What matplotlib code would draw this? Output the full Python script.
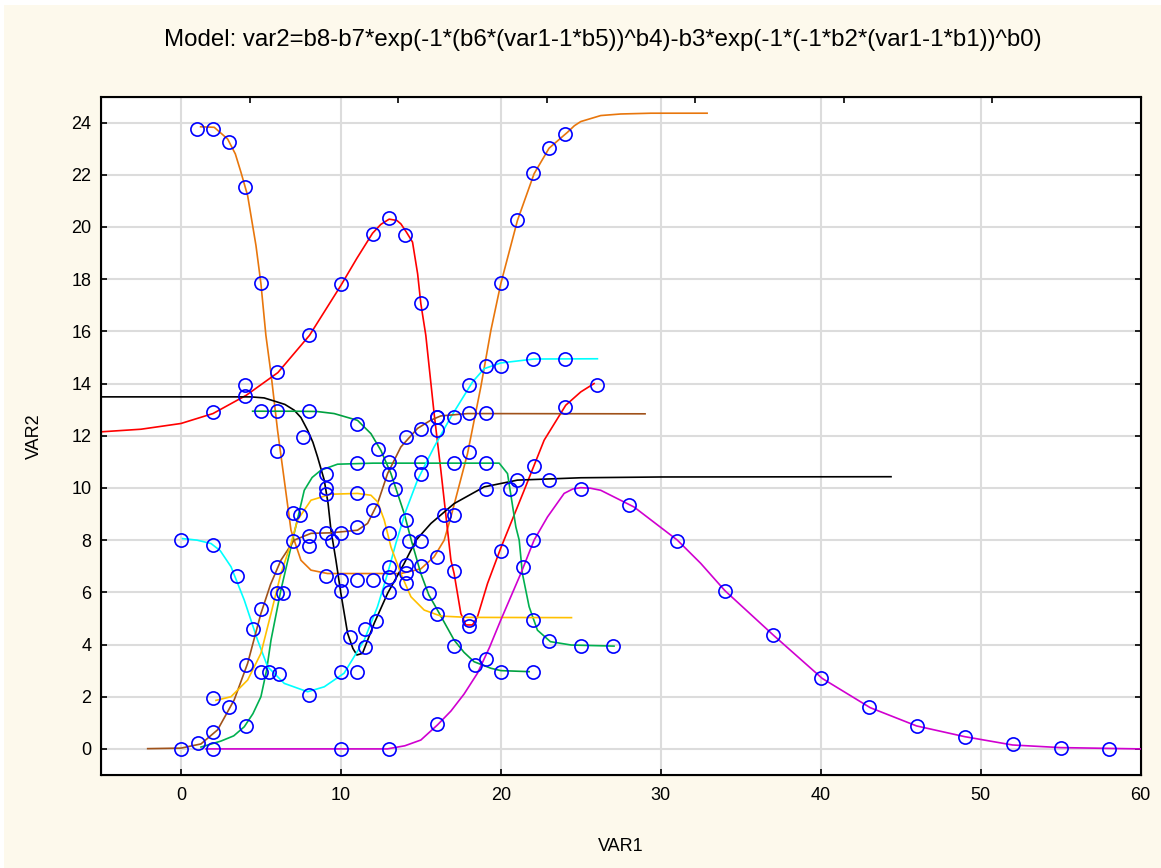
import matplotlib
matplotlib.use("Agg")
import matplotlib.pyplot as plt
from matplotlib.patches import Rectangle

# ---------------- data ----------------
title = "Model: var2=b8-b7*exp(-1*(b6*(var1-1*b5))^b4)-b3*exp(-1*(-1*b2*(var1-1*b1))^b0)"
x_ticks = [0, 10, 20, 30, 40, 50, 60]
y_ticks = [0, 2, 4, 6, 8, 10, 12, 14, 16, 18, 20, 22, 24]

# fitted curves (waypoints)
orange_cx = [1.23, 2.08, 2.92, 3.4, 3.75, 4.17, 4.69, 5.0, 5.31, 5.63, 6.04, 6.46, 6.88, 7.08, 7.5, 8.13, 9.17, 13.75, 15.0, 15.83, 16.46, 16.88, 17.92, 18.75, 19.38, 20.0, 21.04, 22.08, 23.02, 24.17, 24.6, 25.0, 26.25, 27.5, 29.4, 32.9]
orange_cy = [23.84, 23.82, 23.37, 22.8, 22.1, 21.2, 19.29, 17.83, 15.85, 14.38, 12.21, 10.3, 8.38, 8.0, 7.23, 6.85, 6.72, 6.72, 6.9, 7.36, 8.0, 8.89, 11.32, 13.87, 16.04, 17.83, 20.25, 22.04, 23.02, 23.63, 23.88, 24.04, 24.27, 24.33, 24.36, 24.36]

red_cx = [-5.0, -2.5, 0.0, 2.0, 4.08, 6.06, 8.04, 10.0, 11.0, 11.98, 12.5, 13.02, 13.5, 13.75, 14.1, 14.48, 14.8, 15.0, 15.31, 15.83, 16.25, 16.88, 17.08, 17.5, 17.81, 18.23, 18.54, 19.17, 20.0, 21.46, 22.71, 24.06, 25.0, 25.83]
red_cy = [12.15, 12.25, 12.47, 12.85, 13.55, 14.42, 15.85, 17.76, 18.8, 19.76, 20.1, 20.3, 20.25, 20.12, 19.8, 19.42, 18.2, 17.06, 15.85, 12.85, 10.68, 7.23, 6.72, 5.19, 4.75, 4.75, 5.06, 6.34, 7.7, 9.91, 11.83, 13.17, 13.68, 14.0]

black_cx = [-5.0, 4.38, 5.2, 5.83, 6.5, 7.08, 7.5, 7.92, 8.25, 8.54, 8.96, 9.2, 9.38, 9.69, 10.0, 10.42, 10.75, 11.0, 11.35, 12.08, 12.92, 13.96, 14.7, 15.63, 17.08, 18.96, 21.04, 25.0, 30.0, 44.4]
black_cy = [13.49, 13.49, 13.45, 13.33, 13.2, 12.98, 12.7, 12.21, 11.75, 11.19, 10.3, 9.4, 8.38, 7.23, 5.96, 4.43, 3.85, 3.6, 3.66, 4.81, 5.96, 7.11, 8.0, 8.64, 9.4, 10.04, 10.3, 10.39, 10.42, 10.43]

green1_cx = [4.48, 7.0, 8.5, 9.58, 11.04, 11.88, 12.5, 13.13, 13.96, 14.4, 15.0, 15.5, 16.04, 17.08, 17.7, 18.33, 19.38, 20.0, 21.77]
green1_cy = [12.94, 12.94, 12.93, 12.85, 12.59, 12.08, 11.44, 10.55, 9.02, 8.0, 6.72, 5.9, 5.32, 4.17, 3.7, 3.34, 3.09, 3.0, 2.96]

green2_cx = [1.25, 2.5, 3.3, 3.96, 4.5, 5.0, 5.35, 5.63, 6.25, 6.98, 7.71, 8.2, 8.75, 9.79, 12.0, 19.9, 20.42, 20.94, 21.15, 21.35, 21.77, 22.29, 23.1, 24.4, 27.08]
green2_cy = [0.07, 0.3, 0.5, 0.85, 1.35, 2.0, 3.0, 4.17, 6.09, 8.0, 9.91, 10.4, 10.68, 10.91, 10.95, 10.95, 10.55, 8.51, 8.0, 6.72, 5.45, 4.55, 4.11, 3.98, 3.94]

cyan_cx = [0.1, 1.0, 1.88, 2.45, 3.13, 3.96, 4.79, 5.42, 6.46, 7.92, 8.96, 10.2, 11.46, 12.29, 12.92, 13.45, 14.05, 14.79, 15.83, 16.88, 18.23, 18.96, 20.0, 22.08, 26.04]
cyan_cy = [8.06, 8.0, 7.87, 7.6, 6.98, 5.7, 4.17, 3.15, 2.51, 2.19, 2.38, 2.9, 4.17, 5.45, 6.72, 7.9, 9.1, 10.3, 11.57, 12.72, 14.06, 14.57, 14.79, 14.94, 14.95]

brown_cx = [-2.08, 0.0, 1.25, 2.29, 3.33, 4.17, 5.0, 5.6, 6.25, 7.08, 8.13, 9.38, 11.04, 11.67, 12.29, 12.92, 13.75, 14.79, 15.63, 16.25, 17.92, 29.02]
brown_cy = [0.01, 0.03, 0.19, 0.73, 1.88, 3.28, 5.19, 6.3, 7.23, 8.0, 8.26, 8.28, 8.38, 8.64, 9.4, 10.55, 11.57, 12.28, 12.6, 12.76, 12.85, 12.84]

yellow_cx = [2.19, 3.13, 4.17, 5.0, 5.63, 6.25, 6.88, 7.29, 8.13, 9.38, 11.04, 11.88, 12.29, 12.71, 13.13, 13.75, 14.38, 15.21, 16.25, 17.92, 24.42]
yellow_cy = [1.86, 2.0, 2.64, 3.66, 5.19, 6.72, 7.87, 8.77, 9.53, 9.76, 9.79, 9.72, 9.47, 8.77, 7.74, 6.72, 5.83, 5.32, 5.09, 5.04, 5.03]

magenta_cx = [1.56, 12.9, 14.0, 15.0, 16.04, 16.88, 17.7, 18.54, 19.3, 20.0, 21.25, 22.08, 22.92, 23.96, 24.5, 25.0, 25.6, 26.25, 28.33, 31.04, 32.5, 34.02, 37.06, 40.1, 43.1, 46.0, 49.0, 52.0, 55.0, 60.0]
magenta_cy = [0.0, 0.0, 0.12, 0.34, 0.92, 1.45, 2.1, 2.9, 3.9, 4.94, 6.72, 8.0, 8.89, 9.79, 9.96, 10.01, 9.99, 9.91, 9.27, 8.0, 7.11, 6.06, 4.35, 2.7, 1.58, 0.88, 0.47, 0.15, 0.05, 0.0]

# observed points
orange_px = [1, 2, 3, 4, 5, 6, 7, 9.1, 10, 11, 12, 13, 16, 15, 17.05, 18, 20, 21, 22, 23, 24]
orange_py = [23.75, 23.75, 23.25, 21.55, 17.85, 11.4, 9.05, 6.63, 6.47, 6.47, 6.47, 6.6, 7.35, 7.0, 8.97, 11.38, 17.85, 20.27, 22.05, 23.03, 23.55]

red_px = [2, 4, 6, 8, 10, 12, 13, 14, 15, 16, 17.05, 18, 20, 22.05, 24, 26]
red_py = [12.9, 13.95, 14.45, 15.85, 17.8, 19.75, 20.35, 19.7, 17.07, 12.22, 6.83, 4.94, 7.6, 10.83, 13.1, 13.95]

black_px = [4, 7.65, 7.45, 9.1, 9.45, 10.58, 11.5, 11.5, 12.2, 16.45, 19.05, 20.6, 21, 23]
black_py = [13.52, 11.95, 8.97, 9.98, 7.95, 4.27, 3.92, 4.58, 4.91, 8.97, 9.97, 9.95, 10.32, 10.32]

green1_px = [5, 6, 8, 11, 12.35, 13.4, 14.25, 15.5, 17.05, 18.4, 20, 22]
green1_py = [12.95, 12.95, 12.95, 12.45, 11.5, 9.97, 7.97, 5.98, 3.93, 3.22, 2.94, 2.94]

green2_px = [2, 4.06, 6, 9.1, 11, 13, 15, 17.05, 19.05, 21.4, 22, 23, 25, 27]
green2_py = [0, 0.89, 5.98, 10.53, 10.95, 11.0, 11.0, 10.96, 10.96, 6.98, 4.94, 4.15, 3.93, 3.93]

cyan_px = [0, 2, 3.5, 5, 5.5, 6.15, 8, 10, 11, 15, 16, 18, 19.05, 20, 22, 24]
cyan_py = [8.0, 7.83, 6.63, 2.94, 2.94, 2.86, 2.08, 2.94, 2.94, 10.55, 12.7, 13.95, 14.67, 14.67, 14.95, 14.95]

brown_px = [0, 1.04, 2, 3, 4.06, 4.5, 5, 6, 7, 8, 9.1, 10, 11, 12, 13, 14.05, 15, 17.05, 18, 19.05]
brown_py = [0, 0.24, 0.64, 1.6, 3.22, 4.58, 5.35, 6.98, 7.97, 8.17, 8.28, 8.28, 8.5, 9.17, 10.55, 11.95, 12.25, 12.72, 12.88, 12.88]

yellow_px = [2, 6.35, 9.1, 11, 16, 18]
yellow_py = [1.94, 5.98, 9.78, 9.8, 5.16, 4.72]

misc_px = [8, 13, 14.1, 15, 14.05, 14.05, 14.05, 10, 13, 13, 16]
misc_py = [7.77, 8.27, 8.77, 7.97, 7.05, 6.75, 6.35, 6.05, 6.98, 6.0, 12.7]

magenta_px = [10, 13, 16, 19.05, 22, 25, 28, 31, 34, 37, 40, 43, 46, 49, 52, 55, 58]
magenta_py = [0, 0, 0.96, 3.46, 8.0, 9.97, 9.33, 7.97, 6.06, 4.35, 2.7, 1.6, 0.88, 0.47, 0.17, 0.04, 0.0]

# ---------------- drawing ----------------
plt.rcParams['font.family'] = ['Liberation Sans', 'DejaVu Sans']
W, H = 1161, 868
fig = plt.figure(figsize=(W / 100, H / 100), dpi=100, facecolor='white')
fig.patches.append(Rectangle((4 / W, 0), 1 - 4 / W, 1 - 5 / H, transform=fig.transFigure,
                             facecolor='#FDF9EC', edgecolor='none', zorder=-10))

ax = fig.add_axes([101 / W, 1 - 775 / H, (1140.5 - 101) / W, (775 - 96.5) / H])
ax.set_facecolor('white')
ax.set_xlim(-5, 60)
ax.set_ylim(-1, 25)

curves = [
    (orange_cx, orange_cy, '#E8760C'),
    (red_cx, red_cy, '#FF0000'),
    (black_cx, black_cy, '#000000'),
    (green1_cx, green1_cy, '#00A040'),
    (green2_cx, green2_cy, '#00B050'),
    (cyan_cx, cyan_cy, '#00FFFF'),
    (brown_cx, brown_cy, '#A0521A'),
    (yellow_cx, yellow_cy, '#FFC000'),
    (magenta_cx, magenta_cy, '#D000D0'),
]
for cx, cy, col in curves:
    ax.plot(cx, cy, color=col, lw=1.2, zorder=3, solid_joinstyle='round')

point_sets = [(orange_px, orange_py), (red_px, red_py), (black_px, black_py),
              (green1_px, green1_py), (green2_px, green2_py), (cyan_px, cyan_py),
              (brown_px, brown_py), (yellow_px, yellow_py), (misc_px, misc_py),
              (magenta_px, magenta_py)]
for px, py in point_sets:
    ax.plot(px, py, linestyle='none', marker='o', ms=9.5, mfc='none', mec='#0000FF',
            mew=1.2, zorder=4)

ax.set_xticks(x_ticks)
ax.set_yticks(y_ticks)
ax.grid(True, color='#DCDCDC', lw=1.5, zorder=0)
ax.set_axisbelow(True)
ax.tick_params(direction='in', length=4, width=1.2, labelsize=13, pad=9,
               top=False, right=True)
ax.tick_params(axis='y', pad=7)
for s in ax.spines.values():
    s.set_linewidth(1.5)

# top axis: separate evenly spaced ticks without labels
top_ticks = [-5 + k * 65 / 7 for k in range(1, 7)]
axt = ax.twiny()
axt.set_xlim(ax.get_xlim())
axt.set_xticks(top_ticks)
axt.tick_params(direction='in', length=4, width=1.2, labeltop=False)

ax.set_xlabel('VAR1', fontsize=13, labelpad=24)
ax.set_ylabel('VAR2', fontsize=13, labelpad=20)
fig.text(603 / W, 1 - 40 / H, title, ha='center', va='center', fontsize=17.3)

fig.savefig('out.png', dpi=100, facecolor=fig.get_facecolor())
